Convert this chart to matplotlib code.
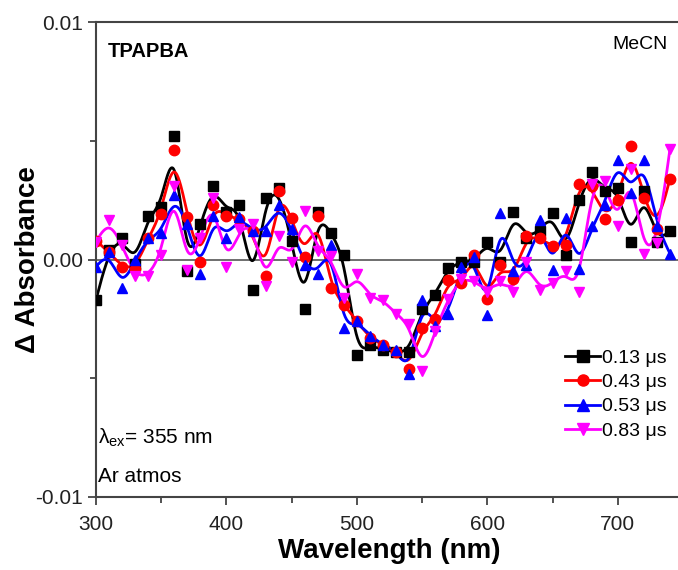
import numpy as np
import matplotlib.pyplot as plt
from matplotlib.lines import Line2D
from matplotlib.ticker import MultipleLocator, FixedLocator

plt.rcParams['font.family'] = ['Liberation Sans', 'DejaVu Sans']

wavelength = list(range(300, 750, 10))

# delta absorbance, in units of 1e-3
abs_013 = [-1.7, 0.4, 0.9, -0.2, 1.85, 2.2, 5.2, -0.5, 1.5, 3.1,
           2.0, 2.3, -1.3, 2.6, 3.0, 0.8, -2.1, 2.0, 1.1, 0.2,
           -4.0, -3.6, -3.8, -3.9, -3.9, -2.1, -1.5, -0.35, -0.1, -0.1,
           0.75, -0.1, 2.0, 0.9, 1.2, 1.95, 0.2, 2.5, 3.7, 2.9,
           3.0, 0.75, 2.9, 0.75, 1.2]
abs_043 = [0.8, 0.3, -0.3, -0.4, 0.9, 1.9, 4.6, 1.8, -0.1, 2.3,
           1.85, 1.7, 1.2, -0.7, 2.9, 1.75, 0.1, 1.85, -1.2, -1.9,
           -2.6, -3.3, -3.6, -3.9, -4.6, -2.9, -2.5, -0.85, -1.0, 0.2,
           -1.65, -0.25, -0.8, 1.0, 0.9, 0.55, 0.6, 3.2, 3.1, 1.7,
           2.5, 4.8, 2.6, 1.3, 3.4]
abs_053 = [-0.3, 0.3, -1.2, 0.0, 0.9, 1.1, 2.7, 1.5, -0.6, 1.85,
           0.9, 1.8, 1.2, 1.2, 2.3, 1.3, -0.25, -0.6, 0.6, -2.9,
           -2.6, -3.2, -3.6, -3.8, -4.8, -1.7, -2.8, -2.3, -0.3, 0.1,
           -2.35, 1.95, -0.5, -0.25, 1.65, -0.45, 1.75, -0.4, 1.4, 2.3,
           4.2, 2.8, 4.2, 1.4, 0.25]
abs_083 = [0.75, 1.65, 0.6, -0.7, -0.7, 0.2, 3.1, -0.45, 0.9, 2.6,
           -0.3, 1.3, 1.5, -1.1, 1.0, -0.1, 2.05, 0.35, 0.15, -1.6,
           -0.6, -1.6, -1.7, -2.3, -2.7, -4.7, -3.0, -1.65, -0.8, -0.9,
           -1.35, -0.9, -1.35, -0.1, -1.3, -1.0, -0.5, -1.35, 3.2, 3.3,
           1.4, 3.8, 0.25, 0.7, 4.65]

labels = ['0.13 \u03bcs', '0.43 \u03bcs', '0.53 \u03bcs', '0.83 \u03bcs']
colors = ['black', '#ff0000', '#0000ff', '#ff00ff']
markers = ['s', 'o', '^', 'v']
series = [abs_013, abs_043, abs_053, abs_083]


def bspline(x, y, n=20):
    # uniform cubic B-spline using the data points as control points
    p = np.column_stack([x, y]).astype(float)
    p = np.vstack([p[0], p[0], p, p[-1], p[-1]])
    t = np.linspace(0, 1, n, endpoint=False)
    b0 = (1 - t) ** 3 / 6
    b1 = (3 * t ** 3 - 6 * t ** 2 + 4) / 6
    b2 = (-3 * t ** 3 + 3 * t ** 2 + 3 * t + 1) / 6
    b3 = t ** 3 / 6
    out = []
    for i in range(len(p) - 3):
        seg = (np.outer(b0, p[i]) + np.outer(b1, p[i + 1]) +
               np.outer(b2, p[i + 2]) + np.outer(b3, p[i + 3]))
        out.append(seg)
    out.append(p[-1][None, :])
    out = np.vstack(out)
    return out[:, 0], out[:, 1]


fig = plt.figure(figsize=(6.78, 5.70), dpi=100)
ax = fig.add_axes([96 / 678, 1 - 497 / 570, 587 / 678, 475 / 570])

ax.axhline(0, color='#555555', lw=1.2, zorder=1)

x = np.array(wavelength)
for vals, c, m in zip(series, colors, markers):
    y = np.array(vals) * 1e-3
    sx, sy = bspline(x, y)
    ax.plot(sx, sy, color=c, lw=2, zorder=2)
    ax.plot(x, y, ls='none', marker=m, color=c, ms=7.5, zorder=3)

ax.set_xlim(300, 750)
ax.set_ylim(-0.01, 0.01)
ax.xaxis.set_major_locator(FixedLocator([300, 400, 500, 600, 700]))
ax.xaxis.set_minor_locator(MultipleLocator(50))
ax.yaxis.set_major_locator(FixedLocator([-0.01, 0.0, 0.01]))
ax.yaxis.set_minor_locator(MultipleLocator(0.005))
ax.set_yticklabels(['-0.01', '0.00', '0.01'])
ax.tick_params(which='both', direction='out', color='#444444', width=1.3,
               labelsize=15, labelcolor='#222222')
ax.tick_params(which='major', length=6)
ax.tick_params(which='minor', length=4)
ax.tick_params(axis='x', pad=7)
for side in ['left', 'bottom', 'top', 'right']:
    ax.spines[side].set_color('#444444')
    ax.spines[side].set_linewidth(1.5)

ax.set_xlabel('Wavelength (nm)', fontsize=20, fontweight='bold', labelpad=3)
ax.set_ylabel('\u0394 Absorbance', fontsize=20, fontweight='bold')
ax.yaxis.set_label_coords(-0.094, 0.5)

ax.text(0.02, 0.937, 'TPAPBA', transform=ax.transAxes, fontsize=14.5,
        fontweight='bold', va='center')
ax.text(0.974, 0.952, 'MeCN', transform=ax.transAxes, fontsize=14,
        va='center', ha='right')
ax.text(0.003, 0.125, '\u03bb$_{\\mathregular{ex}}$= 355 nm',
        transform=ax.transAxes, fontsize=15, va='center')
ax.text(0.003, 0.044, 'Ar atmos', transform=ax.transAxes, fontsize=15,
        va='center')

handles = [Line2D([], [], color=c, marker=m, lw=2, ms=8)
           for c, m in zip(colors, markers)]
ax.legend(handles, labels, loc='lower right', bbox_to_anchor=(0.986, 0.104),
          frameon=False, fontsize=14, handlelength=1.8, handletextpad=0.1,
          labelspacing=0.35, borderaxespad=0)

fig.savefig('out.png', dpi=100)
